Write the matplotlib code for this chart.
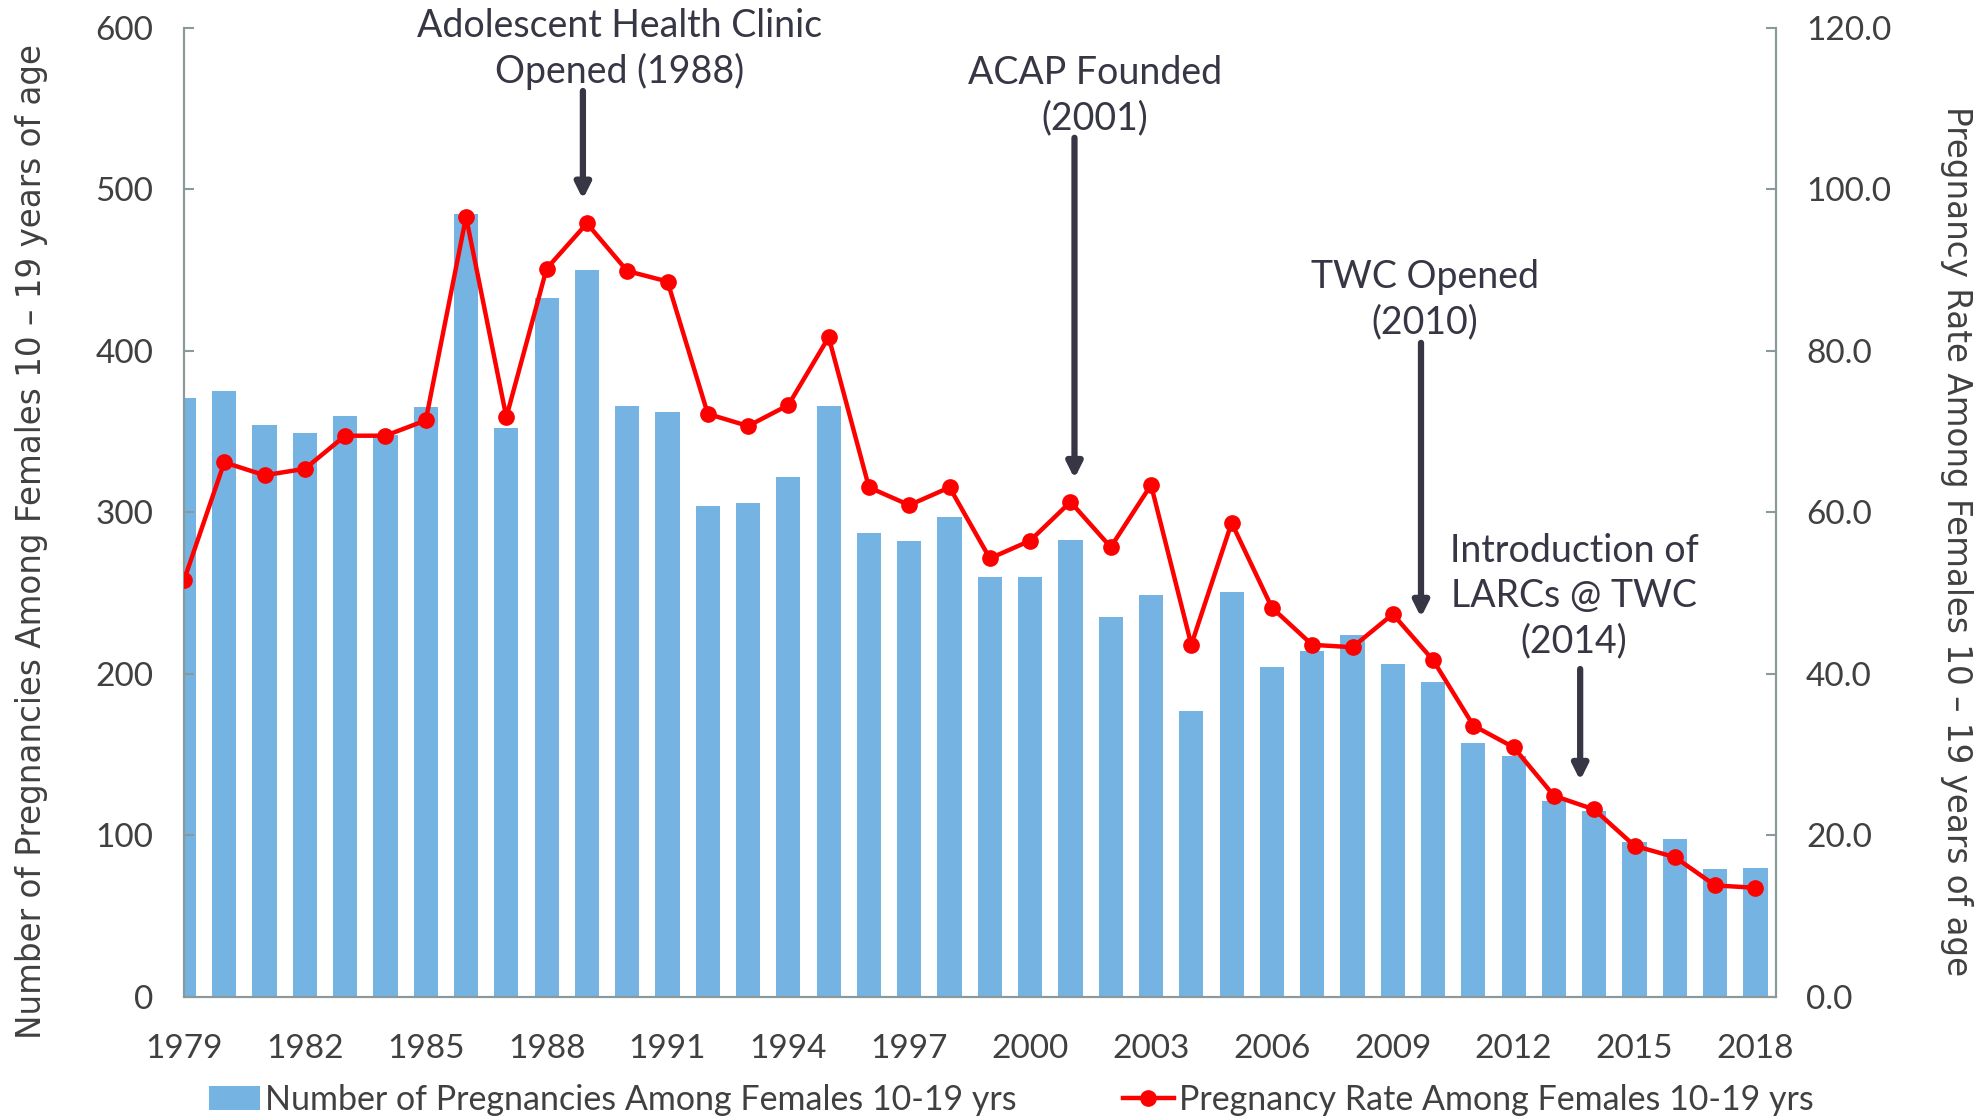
import matplotlib
matplotlib.use("Agg")
import matplotlib.pyplot as plt
from matplotlib.lines import Line2D
from matplotlib.patches import Patch

years = list(range(1979, 2019))
pregnancies = [371, 375, 354, 349, 360, 348, 365, 485, 352, 433,
               450, 366, 362, 304, 306, 322, 366, 287, 282, 297,
               260, 260, 283, 235, 249, 177, 251, 204, 214, 224,
               206, 195, 157, 149, 121, 115, 96, 98, 79, 80]
rates = [51.6, 66.2, 64.6, 65.4, 69.5, 69.5, 71.4, 96.6, 71.8, 90.2,
         95.8, 89.9, 88.6, 72.2, 70.7, 73.3, 81.7, 63.1, 60.9, 63.1,
         54.3, 56.5, 61.3, 55.7, 63.4, 43.6, 58.7, 48.2, 43.6, 43.3,
         47.4, 41.7, 33.6, 30.9, 24.9, 23.2, 18.7, 17.3, 13.8, 13.5]
tick_years = list(range(1979, 2019, 3))

bar_label = "Number of Pregnancies Among Females 10-19 yrs"
line_label = "Pregnancy Rate Among Females 10-19 yrs"

# (text, text x, text y, arrow x, arrow tail y, arrow tip y) in left-axis units
events = [
    ("Adolescent Health Clinic\nOpened (1988)", 1989.8, 587, 1988.9, 561, 494),
    ("ACAP Founded\n(2001)", 2001.6, 558, 2001.1, 532, 321),
    ("TWC Opened\n(2010)", 2009.8, 432, 2009.7, 405, 235),
    ("Introduction of\nLARCs @ TWC\n(2014)", 2013.5, 248, 2013.65, 203, 134),
]

bar_color = "#75B4E2"
red = "#FF0000"
dark = "#363644"
txt = "#404040"
axis_gray = "#8A9A9A"
font_main = ["Lato", "DejaVu Sans"]

fig = plt.figure(figsize=(19.87, 11.2), dpi=100)
ax = fig.add_axes([0.0926, 0.110, 0.801, 0.865])
ax2 = ax.twinx()

ax.bar(years, pregnancies, width=0.6, color=bar_color, zorder=1)
ax2.plot(years, rates, color=red, lw=3.2, marker="o", markersize=11, zorder=3)

ax.set_xlim(1979, 2018.5)
ax.set_ylim(0, 600)
ax2.set_ylim(0, 120)
ax.set_yticks(range(0, 601, 100))
ax2.set_yticks(range(0, 121, 20))
ax2.set_yticklabels([f"{v:.1f}" for v in range(0, 121, 20)])
ax.set_xticks(tick_years)
ax.set_xticklabels([str(y) for y in tick_years])

for a in (ax, ax2):
    for s in a.spines.values():
        s.set_color(axis_gray)
        s.set_linewidth(1.5)
    a.spines["top"].set_visible(False)
    a.tick_params(axis="y", direction="in", length=7, width=1.5, color=axis_gray,
                  labelsize=24, labelcolor=txt, pad=22)
    for lab in a.get_yticklabels():
        lab.set_family(font_main)
ax.tick_params(axis="x", length=0, labelsize=24, labelcolor=txt, pad=27)
for lab in ax.get_xticklabels():
    lab.set_family(font_main)

ax.set_ylabel("Number of Pregnancies Among Females 10 \u2013 19 years of age",
              fontsize=23.5, color=txt, family="DejaVu Sans", va="center")
ax.yaxis.set_label_coords(-0.0955, 0.47)
ax2.set_ylabel("Pregnancy Rate Among Females 10 \u2013 19 years of age",
               fontsize=23.5, color=txt, family="DejaVu Sans", rotation=270, va="center")
ax2.yaxis.set_label_coords(1.1138, 0.47)

for label, tx, ty, axx, tail, tip in events:
    ax.text(tx, ty, label, ha="center", va="center", fontsize=27, color=dark,
            family=font_main, linespacing=1.32, clip_on=False, zorder=5)
    ax.annotate("", xy=(axx, tip), xytext=(axx, tail),
                arrowprops=dict(arrowstyle="-|>,head_length=0.9,head_width=0.45",
                                color=dark, lw=4.5, shrinkA=0, shrinkB=0),
                zorder=5, annotation_clip=False)

handles = [Patch(facecolor=bar_color, label=bar_label),
           Line2D([0], [0], color=red, lw=3.2, marker="o", markersize=11, label=line_label)]
fig.legend(handles=handles, loc="center", bbox_to_anchor=(0.509, 0.018), ncol=2,
           frameon=False, prop={"family": font_main, "size": 24.5}, labelcolor=txt,
           handlelength=1.5, handletextpad=0.15, columnspacing=3.1)

fig.savefig("out.png", dpi=100)
